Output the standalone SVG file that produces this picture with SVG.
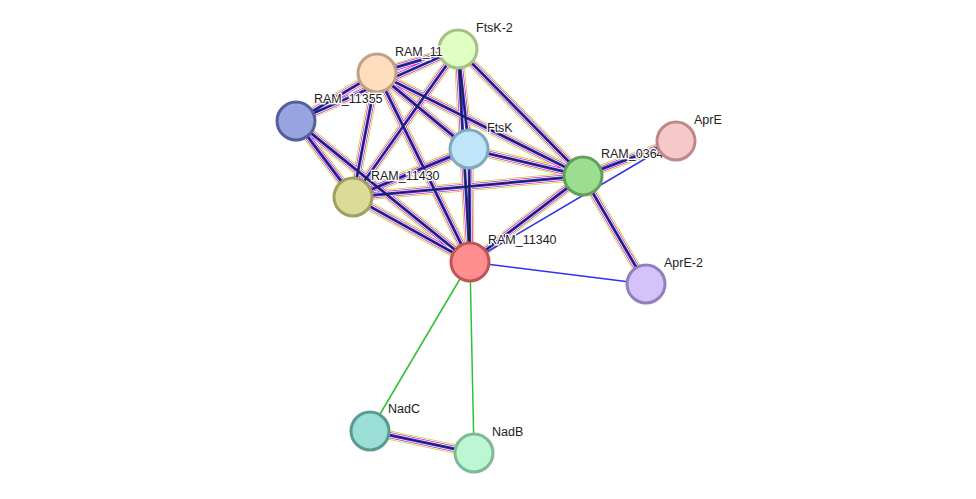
<svg xmlns="http://www.w3.org/2000/svg" width="976" height="499" viewBox="0 0 976 499">
<style>
.a{stroke:#C8D020;stroke-width:9}
.w{stroke:#fff;stroke-width:7.5}
.b{stroke:#D020D0;stroke-width:6}
.w2{stroke:#fff;stroke-width:4.5}
.c{stroke:#3030E0;stroke-width:3}
.d{stroke:#202020;stroke-width:1.2}
.g{stroke:#30C030;stroke-width:1.5}
.bl{stroke:#3030F0;stroke-width:1.5}
circle{stroke-width:3}
text{font-family:"Liberation Sans",Arial,sans-serif;font-size:12.5px;fill:#222;paint-order:stroke;stroke:#fff;stroke-width:2.5}
</style>
<defs>
<g id="e"/>
</defs>
<g id="connectors" fill="none">
<g id="multi">
<!-- clique edges drawn as layered stripes -->
<path id="p" d="M470,262L458,49M470,262L377,73M470,262L296,121M470,262L469,149M470,262L353,197M470,262L583,176M458,49L377,73M458,49L296,121M458,49L469,149M458,49L353,197M458,49L583,176M377,73L296,121M377,73L469,149M377,73L353,197M377,73L583,176M296,121L353,197M469,149L353,197M469,149L583,176M353,197L583,176M583,176L676,141M583,176L646,284M370,431L474,453"/>
</g>
<use href="#p" class="a"/>
<use href="#p" class="w"/>
<use href="#p" class="b"/>
<use href="#p" class="w2"/>
<use href="#p" class="c"/>
<use href="#p" class="d"/>
<path class="bl" d="M470,262L646,284M470,262L660,150"/>
<path class="g" d="M470,262L370,431M470,262L474,453"/>
</g>
<g id="n11340"><circle cx="470" cy="262" r="19" fill="#FF8F8F" stroke="#C05555"/><text x="488" y="244">RAM_11340</text></g>
<g id="nFtsK2"><circle cx="458" cy="49" r="19" fill="#E0FFC2" stroke="#A5C085"/><text x="476" y="32">FtsK-2</text></g>
<g id="n11"><circle cx="377" cy="73" r="19" fill="#FFDEBE" stroke="#C0A088"/><text x="395" y="56">RAM_11</text></g>
<g id="n11355"><circle cx="296" cy="121" r="19" fill="#98A4E0" stroke="#55609A"/><text x="314" y="103">RAM_11355</text></g>
<g id="nFtsK"><circle cx="469" cy="149" r="19" fill="#BFE6F8" stroke="#80A8C0"/><text x="487" y="132">FtsK</text></g>
<g id="n11430"><circle cx="353" cy="197" r="19" fill="#DCDC98" stroke="#A0A060"/><text x="371" y="180">RAM_11430</text></g>
<g id="n0364"><circle cx="583" cy="176" r="19" fill="#9CDE90" stroke="#60A058"/><text x="601" y="158">RAM_0364</text></g>
<g id="nAprE"><circle cx="676" cy="141" r="19" fill="#F6C8C8" stroke="#C08888"/><text x="694" y="124">AprE</text></g>
<g id="nAprE2"><circle cx="646" cy="284" r="19" fill="#D4C2FA" stroke="#9080C0"/><text x="664" y="267">AprE-2</text></g>
<g id="nNadC"><circle cx="370" cy="431" r="19" fill="#9ADED5" stroke="#5A9A92"/><text x="388" y="413">NadC</text></g>
<g id="nNadB"><circle cx="474" cy="453" r="19" fill="#BDF6D2" stroke="#80B898"/><text x="492" y="436">NadB</text></g>
</svg>
